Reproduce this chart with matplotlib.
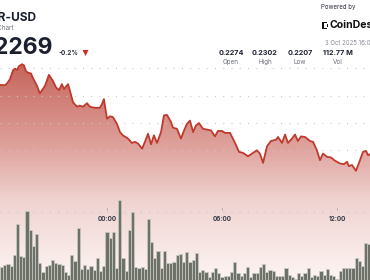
import numpy as np
import matplotlib
matplotlib.use("Agg")
import matplotlib.pyplot as plt
from matplotlib.colors import LinearSegmentedColormap
from matplotlib.patches import Rectangle, Polygon

plt.rcParams['font.family'] = ['Inter', 'DejaVu Sans']

# ---------------- data ----------------
price_hours = [-5.58, -5.32, -5.22, -5.06, -4.90, -4.80, -4.69, -4.59, -4.43, -4.33,
               -4.23, -4.12, -3.96, -3.86, -3.65, -3.50, -3.23, -3.03, -2.82, -2.66,
               -2.50, -2.35, -2.24, -2.03, -1.93, -1.77, -1.56, -1.41, -1.25, -1.04,
               -0.89, -0.63, -0.37, -0.26, -0.16, 0.00, 0.16, 0.31, 0.52, 0.68,
               0.83, 1.10, 1.30, 1.46, 1.62, 1.83, 1.98, 2.14, 2.30, 2.45,
               2.61, 2.82, 2.97, 3.13, 3.34, 3.44, 3.65, 3.86, 4.02, 4.17,
               4.33, 4.49, 4.64, 4.80, 5.01, 5.22, 5.43, 5.63, 5.79, 6.00,
               6.16, 6.42, 6.68, 6.89, 7.09, 7.36, 7.56, 7.82, 7.98, 8.14,
               8.35, 8.55, 8.82, 8.92, 9.13, 9.29, 9.44, 9.65, 9.81, 9.96,
               10.12, 10.33, 10.59, 10.75, 10.95, 11.11, 11.27, 11.48, 11.68, 11.89,
               12.15, 12.36, 12.52, 12.62, 12.78, 12.99, 13.20, 13.35, 13.51, 13.62,
               13.72]
prices = [0.22939, 0.22938, 0.22944, 0.22960, 0.22993, 0.22999, 0.22994, 0.23008, 0.23015, 0.23011,
          0.22990, 0.22984, 0.22981, 0.22964, 0.22936, 0.22908, 0.22936, 0.22976, 0.22954, 0.22930,
          0.22920, 0.22942, 0.22924, 0.22942, 0.22917, 0.22875, 0.22859, 0.22863, 0.22859, 0.22872,
          0.22859, 0.22855, 0.22855, 0.22869, 0.22887, 0.22815, 0.22824, 0.22821, 0.22796, 0.22766,
          0.22754, 0.22742, 0.22726, 0.22730, 0.22724, 0.22705, 0.22730, 0.22760, 0.22721, 0.22754,
          0.22726, 0.22766, 0.22827, 0.22829, 0.22803, 0.22782, 0.22778, 0.22742, 0.22772, 0.22796,
          0.22808, 0.22766, 0.22790, 0.22799, 0.22778, 0.22775, 0.22772, 0.22750, 0.22770, 0.22770,
          0.22763, 0.22763, 0.22726, 0.22693, 0.22690, 0.22677, 0.22687, 0.22699, 0.22687, 0.22653,
          0.22714, 0.22733, 0.22738, 0.22748, 0.22726, 0.22757, 0.22726, 0.22742, 0.22757, 0.22733,
          0.22750, 0.22748, 0.22733, 0.22730, 0.22699, 0.22663, 0.22687, 0.22675, 0.22673, 0.22661,
          0.22651, 0.22648, 0.22657, 0.22641, 0.22645, 0.22624, 0.22663, 0.22693, 0.22697, 0.22681,
          0.22685]

volume_start_hour = -5.5
volume_step_hours = 1 / 6
volume = [13, 15, 16, 14, 25, 56, 24, 23, 69, 50, 34, 46, 17, 8, 14, 15, 20, 17, 16, 15,
          8, 5, 25, 19, 52, 11, 15, 11, 14, 10, 22, 9, 14, 48, 42, 48, 12, 80, 22, 9,
          50, 68, 13, 12, 13, 11, 61, 38, 22, 29, 12, 29, 17, 17, 18, 25, 26, 18, 28, 18,
          20, 27, 8, 10, 8, 3, 8, 12, 7, 3, 4, 4, 8, 18, 7, 4, 7, 13, 3, 7,
          7, 13, 16, 8, 10, 9, 4, 4, 4, 12, 5, 3, 1, 7, 4, 7, 12, 3, 5, 4,
          9, 5, 11, 5, 4, 1, 9, 12, 12, 12, 12, 22, 19, 14, 37, 36, 51]

grid_levels = [0.230, 0.229, 0.228, 0.227, 0.226]
tick_hours = [-6, 0, 6, 12]
tick_labels = ["18:00", "00:00", "06:00", "12:00"]

title = "HBAR-USD"
subtitle = "Price Chart"
last_price = "0.2269"
change = "-0.2%"
stat_values = ["0.2274", "0.2302", "0.2207", "112.77 M"]
stat_names = ["Open", "High", "Low", "Vol"]
date_text = "3 Oct 2025 16:00"

# ---------------- figure ----------------
W, H = 370, 280
fig = plt.figure(figsize=(W / 100, H / 100), dpi=100)
fig.patch.set_facecolor("white")

def fx(px):
    return px / W

def fy(py):
    return 1 - py / H

ax = fig.add_axes([0, 0, 1, 1])
ax.set_xlim(-5.58, 13.72)
y_top = 0.230 + 68.3 / 27.25 * 0.001
y_bot = 0.230 - (H - 68.3) / 27.25 * 0.001
ax.set_ylim(y_bot, y_top)
ax.axis("off")

# gradient area fill
cmap = LinearSegmentedColormap.from_list(
    "fade",
    [(0.0, (0.75, 0.35, 0.31)),
     (0.22, (0.77, 0.39, 0.35)),
     (0.54, (0.88, 0.65, 0.63)),
     (0.72, (0.94, 0.83, 0.82)),
     (1.0, (0.99, 0.96, 0.955))])
grad = np.linspace(0, 1, 256).reshape(-1, 1)
verts = [(price_hours[0], y_bot)] + list(zip(price_hours, prices)) + [(price_hours[-1], y_bot)]
poly = Polygon(verts, closed=True, facecolor="none", edgecolor="none")
ax.add_patch(poly)
im = ax.imshow(grad, cmap=cmap, aspect="auto", origin="upper",
               extent=[-5.58, 13.72, y_bot, y_top], zorder=1)
im.set_clip_path(poly)

# grid
for g in grid_levels:
    ax.axhline(g, color="#c9c9c9", lw=0.9, ls=(0, (0.8, 5.8)), zorder=2)

# price line
ax.plot(price_hours, prices, color="#bf3a2e", lw=1.3, zorder=5, solid_joinstyle="round")

# volume bars
axv = fig.add_axes([0, 0, 1, 1], sharex=ax)
axv.set_ylim(0, H)
axv.axis("off")
axv.patch.set_alpha(0)
bar_x = volume_start_hour + volume_step_hours * np.arange(len(volume))
axv.bar(bar_x, volume, width=volume_step_hours, color="#6d7168",
        edgecolor="#c9ccc4", linewidth=0.5, zorder=4, align="center")

# time axis
axis_y = H - 212
axv.axhline(axis_y, color="#c9c9c9", lw=0.9, ls=(0, (0.8, 5.8)), zorder=3)
for th, tl in zip(tick_hours, tick_labels):
    axv.plot([th, th], [axis_y + 2, axis_y + 4], color="#aaaaaa", lw=0.6, zorder=3)
    axv.text(th, H - 219, tl, ha="center", va="center", fontsize=4.6,
             fontweight="bold", color="#3a3d4a", zorder=6)

# header texts
fig.text(fx(36), fy(18), title, ha="right", va="center", fontsize=8.6,
         fontweight="bold", color="#1b1f2e")
fig.text(fx(13.5), fy(28.5), subtitle, ha="right", va="center", fontsize=4.6,
         color="#6b6f7a")
fig.text(fx(52), fy(47.5), last_price, ha="right", va="center", fontsize=16.5,
         fontweight="bold", color="#1b1f2e")
fig.text(fx(59), fy(53), change, ha="left", va="center", fontsize=4.6,
         fontweight="bold", color="#2b2f3a")
fig.patches.append(Polygon([(fx(82.5), fy(50)), (fx(88.5), fy(50)), (fx(85.5), fy(56))],
                           closed=True, transform=fig.transFigure, facecolor="#d32f25",
                           edgecolor="none"))

fig.text(fx(321), fy(6.5), "Powered by", ha="left", va="center", fontsize=4.4,
         color="#2b2f3a")
# logo mark
for (rx, ry, rw, rh) in [(322, 22, 1.6, 7), (322, 22, 5, 1.4), (322, 27.6, 5, 1.4),
                         (326.5, 24.2, 1.4, 1.4), (326.5, 26.2, 1.4, 1.0)]:
    fig.patches.append(Rectangle((fx(rx), fy(ry + rh)), rw / W, rh / H,
                                 transform=fig.transFigure, facecolor="#111111",
                                 edgecolor="none"))
fig.text(fx(330), fy(25.5), "CoinDesk", ha="left", va="center", fontsize=7.6,
         fontweight="bold", color="#111111")
fig.text(fx(325), fy(43), date_text, ha="left", va="center", fontsize=4.4,
         color="#8a8d96")

stat_x = [231, 265, 300, 338]
for sx, sv, sn in zip(stat_x, stat_values, stat_names):
    fig.text(fx(sx), fy(53), sv, ha="center", va="center", fontsize=5.2,
             fontweight="bold", color="#1f2330")
    fig.text(fx(sx), fy(62), sn, ha="center", va="center", fontsize=4.5,
             color="#6b6f7a")

fig.savefig("out.png", dpi=100, facecolor="white")
